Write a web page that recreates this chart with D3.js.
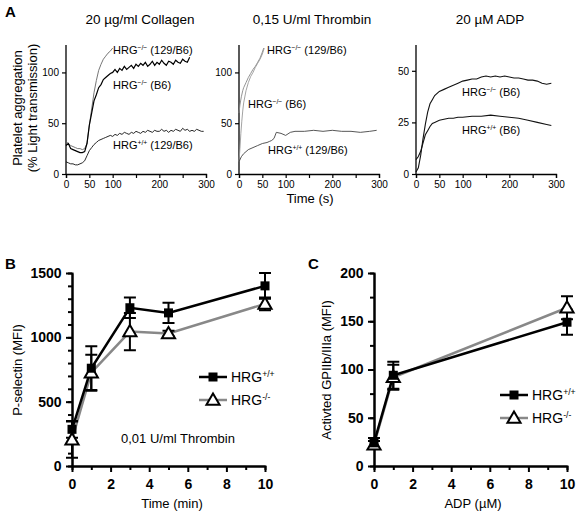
<!DOCTYPE html>
<html><head><meta charset="utf-8">
<script src="https://cdn.jsdelivr.net/npm/d3@7"></script>
<style>body{margin:0;background:#fff}text{font-family:"Liberation Sans",Arial,sans-serif}</style>
</head><body>
<script>
// ---------- DATA ----------
// Panel A: Collagen
const colKO129T = [0,5,10,15,20,25,30,35,40,45,50,55,60,65,70,75,80,85,90,95,100];
const colKO129V = [32,30,28,27,26,25,25,24,25,30,48,64,80,92,102,108,113,116,119,121,124];
const colKOB6T = d3.range(0,270,5);
const colKOB6V = [28,30,25,24,23,22,21,21,22,30,48,60,72,78,85,88,93,95,97,99,100,103,100,104,102,106,103,105,107,104,108,106,109,107,110,106,108,111,107,110,108,112,109,107,111,110,108,112,110,109,113,111,110,115];
const colWTT = d3.range(0,300,5);
const colWTV = [12,11,10,10,9,9,10,11,13,18,23,26,29,31,33,34,35,36,37,38,37,39,38,40,39,41,40,39,41,40,42,41,40,42,41,43,42,41,43,42,42,44,42,43,41,43,42,44,43,42,45,43,44,42,43,42,44,43,42,42];
// Panel A: Thrombin
const thrKO129T = [0,2,5,8,10,15,20,25,30,35,40,45,50,53];
const thrKO129V = [60,68,76,82,85,90,95,99,103,106,110,114,120,124];
const thrKOB6T = [0,2,4,6,8,10,15,20,25,30,35,40,45,50,54];
const thrKOB6V = [12,25,40,52,62,70,82,90,96,100,105,109,113,118,124];
const thrWTT = [0,5,10,15,20,30,40,50,60,65,70,75,80,90,100,110,120,140,160,180,200,220,240,260,280,295];
const thrWTV = [12,17,20,22,24,26,28,30,31,32,33,35,41,40,38,41,42,42,43,42,43,42,42,41,42,43];
// Panel A: ADP
const adpKOT = [0,5,10,15,20,25,30,35,40,50,60,70,80,90,100,110,120,130,140,150,160,170,180,190,200,210,220,230,240,250,260,270,280,290];
const adpKOV = [1,3,9,17,24,30,34,36,38,40,41,42,43,44,45,45.5,46,46,47,47.5,47,47.5,47,47.5,47,46.5,46.5,46,45.5,45.5,45,44,43.5,44];
const adpWTT = [0,5,10,15,20,25,30,35,40,50,60,70,80,90,100,120,140,160,180,200,220,240,260,280,290];
const adpWTV = [7,8.5,11,15,19,21,23,24.5,25,26,26.5,27,27,27.5,27.5,28,28,28.5,28,27.5,27,26,25,24,23.5];
// Panel B: P-selectin
const bTime = [0,1,3,5,10];
const bWT = [285,760,1230,1190,1400];
const bWTErr = [65,170,80,78,100];
const bKO = [205,725,1045,1030,1260];
const bKOErr = [140,140,145,22,50];
// Panel C: GPIIb/IIIa
const cADP = [0,1,10];
const cWT = [24,94,149];
const cWTErr = [5,14,13];
const cKO = [22,92,164];
const cKOErr = [4,13,12];
// Tick labels
const aXTicks = [0,50,100,150,200,250,300];
const aXLabels = ["0","50","100","","200","","300"];
const bcXTicks = [0,2,4,6,8,10];

// ---------- DRAW ----------
const svg = d3.select("body").append("svg").attr("width",577).attr("height",514);
const F = '"Liberation Sans",Arial,sans-serif';

function txt(x,y,s,opt={}) {
  return svg.append("text").attr("x",x).attr("y",y).text(s)
    .attr("font-size",opt.size||13).attr("font-weight",opt.bold?"bold":"normal")
    .attr("text-anchor",opt.anchor||"start").attr("fill","#000");
}
function hrgLabel(x,y,sup,rest,size=11) {
  const t = svg.append("text").attr("x",x).attr("y",y).attr("font-size",size).attr("fill","#000");
  t.append("tspan").text("HRG");
  t.append("tspan").text(sup).attr("font-size",size*0.62).attr("dy",-size*0.38);
  t.append("tspan").text(rest).attr("dy",size*0.38);
  return t;
}

// Panel labels
txt(5,17,"A",{size:15,bold:true});
txt(5,269,"B",{size:15,bold:true});
txt(308,269,"C",{size:15,bold:true});

// Panel A sub-plots
const aPanels = [
  {x0:66, title:"20 \u00b5g/ml Collagen", tx:140, ymax:127, yt:[0,50,100],
   lines:[[colKO129T,colKO129V,"#666",0.9],[colKOB6T,colKOB6V,"#000",1.2],[colWTT,colWTV,"#111",0.9]],
   labels:[[113,54,"\u2212/\u2212"," (129/B6)"],[113,89,"\u2212/\u2212"," (B6)"],[113,149,"+/+"," (129/B6)"]]},
  {x0:239, title:"0,15 U/ml Thrombin", tx:312, ymax:127, yt:[0,50,100],
   lines:[[thrKO129T,thrKO129V,"#888",0.9],[thrKOB6T,thrKOB6V,"#999",0.9],[thrWTT,thrWTV,"#444",0.9]],
   labels:[[267,54,"\u2212/\u2212"," (129/B6)"],[248,108,"\u2212/\u2212"," (B6)"],[268,154,"+/+"," (129/B6)"]]},
  {x0:416, title:"20 \u00b5M ADP", tx:490, ymax:62.5, yt:[0,25,50],
   lines:[[adpKOT,adpKOV,"#111",1.1],[adpWTT,adpWTV,"#111",1.1]],
   labels:[[462,96,"\u2212/\u2212"," (B6)"],[462,134,"+/+"," (B6)"]]}
];
aPanels.forEach(p=>{
  const x = d3.scaleLinear().domain([0,300]).range([p.x0,p.x0+140]);
  const y = d3.scaleLinear().domain([0,p.ymax]).range([174,45]);
  txt(p.tx,24,p.title,{size:13.5,anchor:"middle"});
  const gx = svg.append("g").attr("transform","translate(0,174)")
    .call(d3.axisBottom(x).tickValues(aXTicks).tickFormat((d,i)=>aXLabels[i]).tickSizeOuter(0).tickSize(4));
  const gy = svg.append("g").attr("transform",`translate(${p.x0},0)`)
    .call(d3.axisLeft(y).tickValues(p.yt).tickFormat(d3.format("d")).tickSizeOuter(0).tickSize(4));
  [gx,gy].forEach(g=>{g.selectAll("text").attr("font-size",10).attr("font-family",F).attr("fill","#000");
    g.select(".domain").attr("stroke","#000").attr("stroke-width",1.3);
    g.selectAll(".tick line").attr("stroke","#000").attr("stroke-width",1.2);});
  gy.select(".domain").attr("d",`M0,174V45`);
  p.lines.forEach(([T,V,c,w])=>{
    svg.append("path").datum(T.map((t,i)=>[t,V[i]]))
      .attr("d",d3.line().x(d=>x(d[0])).y(d=>y(d[1])))
      .attr("fill","none").attr("stroke",c).attr("stroke-width",w);
  });
  p.labels.forEach(l=>hrgLabel(l[0],l[1],l[2],l[3]));
});
// A axis titles
svg.append("text").attr("transform","translate(22,108) rotate(-90)").attr("text-anchor","middle")
  .attr("font-size",13).text("Platelet aggregation");
svg.append("text").attr("transform","translate(37,108) rotate(-90)").attr("text-anchor","middle")
  .attr("font-size",13).text("(% Light transmission)");
txt(310,203,"Time (s)",{size:13,anchor:"middle"});

// Panels B and C
function dotPanel(o){
  const x = d3.scaleLinear().domain([0,10]).range([o.x0,o.x0+193]);
  const y = d3.scaleLinear().domain([0,o.ymax]).range([466,273]);
  // minor ticks
  const gxm = svg.append("g").attr("transform","translate(0,466)")
    .call(d3.axisBottom(x).tickValues([1,3,5,7,9]).tickFormat("").tickSize(4));
  const gym = svg.append("g").attr("transform",`translate(${o.x0},0)`)
    .call(d3.axisLeft(y).tickValues(o.minor).tickFormat("").tickSize(4));
  const gx = svg.append("g").attr("transform","translate(0,466)")
    .call(d3.axisBottom(x).tickValues(bcXTicks).tickFormat(d3.format("d")).tickSize(6).tickSizeOuter(0));
  const gy = svg.append("g").attr("transform",`translate(${o.x0},0)`)
    .call(d3.axisLeft(y).tickValues(o.major).tickFormat(d3.format("d")).tickSize(6).tickSizeOuter(0));
  [gxm,gym,gx,gy].forEach(g=>{g.selectAll(".domain").attr("stroke","#000").attr("stroke-width",2);
    g.selectAll(".tick line").attr("stroke","#000").attr("stroke-width",2);
    g.selectAll("text").attr("font-size",14).attr("font-weight","bold").attr("font-family",F).attr("fill","#000");});
  gx.selectAll("text").attr("dy","1.0em");
  gy.selectAll("text").attr("dx","-0.1em");
  const series = [
    {v:o.ko, e:o.koErr, c:"#888", tri:true},
    {v:o.wt, e:o.wtErr, c:"#000", tri:false}
  ];
  series.forEach(s=>{
    const pts = o.xs.map((t,i)=>[t,s.v[i],s.e[i]]);
    svg.append("path").datum(pts).attr("d",d3.line().x(d=>x(d[0])).y(d=>y(d[1])))
      .attr("fill","none").attr("stroke",s.c).attr("stroke-width",2.5);
    pts.forEach(d=>{
      const cx=x(d[0]), y1=y(d[1]+d[2]), y2=y(d[1]-d[2]);
      svg.append("path").attr("d",`M${cx},${y1}V${y2}M${cx-6},${y1}H${cx+6}M${cx-6},${y2}H${cx+6}`)
        .attr("stroke","#000").attr("stroke-width",2).attr("fill","none");
    });
  });
  series.forEach(s=>{
    o.xs.forEach((t,i)=>marker(x(t),y(s.v[i]),s.tri));
  });
  // legend
  [[o.lx,o.ly1,"#000",false,"+/+"],[o.lx,o.ly2,"#888",true,"-/-"]].forEach(([lx,ly,c,tri,sup])=>{
    svg.append("line").attr("x1",lx).attr("x2",lx+28).attr("y1",ly).attr("y2",ly)
      .attr("stroke",c).attr("stroke-width",2.5);
    marker(lx+14,ly,tri);
    hrgLabel(lx+32,ly+5,sup,"",14);
  });
}
function marker(cx,cy,tri){
  if(tri){
    svg.append("path").attr("d",d3.symbol(d3.symbolTriangle,75)())
      .attr("transform",`translate(${cx},${cy+1})`).attr("fill","#fff").attr("stroke","#000").attr("stroke-width",2);
  } else {
    svg.append("rect").attr("x",cx-4.5).attr("y",cy-4.5).attr("width",9).attr("height",9).attr("fill","#000");
  }
}
dotPanel({x0:72, ymax:1500, major:[0,500,1000,1500], minor:d3.range(100,1500,100),
  xs:bTime, wt:bWT, wtErr:bWTErr, ko:bKO, koErr:bKOErr, lx:199, ly1:377, ly2:400});
dotPanel({x0:374, ymax:200, major:[0,50,100,150,200], minor:d3.range(25,200,25),
  xs:cADP, wt:cWT, wtErr:cWTErr, ko:cKO, koErr:cKOErr, lx:500, ly1:395, ly2:418});

svg.append("text").attr("transform","translate(22,370) rotate(-90)").attr("text-anchor","middle")
  .attr("font-size",13).text("P-selectin (MFI)");
svg.append("text").attr("transform","translate(331,370) rotate(-90)").attr("text-anchor","middle")
  .attr("font-size",13).text("Activted GPIIb/IIIa (MFI)");
txt(172,508,"Time (min)",{size:13,anchor:"middle"});
txt(473,508,"ADP (\u00b5M)",{size:13,anchor:"middle"});
txt(178,443,"0,01 U/ml Thrombin",{size:13,anchor:"middle"});
</script>
</body></html>
